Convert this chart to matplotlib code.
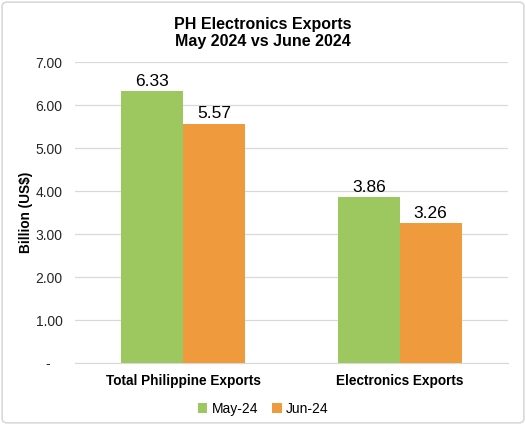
import matplotlib.pyplot as plt
import numpy as np
from matplotlib.patches import FancyBboxPatch

# data
categories = ["Total Philippine Exports", "Electronics Exports"]
may_24 = [6.33, 3.86]
jun_24 = [5.57, 3.26]
series_names = ["May-24", "Jun-24"]
yticks = [0, 1, 2, 3, 4, 5, 6, 7]
ytick_labels = ["-\u00a0\u00a0\u00a0", "1.00", "2.00", "3.00", "4.00", "5.00", "6.00", "7.00"]

plt.rcParams["font.family"] = ["Liberation Sans", "DejaVu Sans"]

green = "#9DC75F"
orange = "#EF9B3D"

fig = plt.figure(figsize=(5.26, 4.25), dpi=100)
ax = fig.add_axes([0.1426, 0.1459, 0.8232, 0.7081])

x = np.arange(len(categories))
w = 0.286
b1 = ax.bar(x - w / 2, may_24, w, color=green, label=series_names[0], zorder=3)
b2 = ax.bar(x + w / 2, jun_24, w, color=orange, label=series_names[1], zorder=3)

for bars in (b1, b2):
    for rect in bars:
        h = rect.get_height()
        ax.text(rect.get_x() + rect.get_width() / 2, h + 0.05, f"{h:.2f}",
                ha="center", va="bottom", fontsize=12.5, color="#000000")

ax.set_xlim(-0.5, 1.5)
ax.set_ylim(0, 7)
ax.set_yticks(yticks)
ax.set_yticklabels(ytick_labels, fontsize=10, color="#262626")
ax.set_xticks(x)
ax.set_xticklabels(categories, fontsize=9.8, fontweight="bold")
ax.tick_params(axis="both", length=0)
ax.tick_params(axis="y", pad=9)
ax.tick_params(axis="x", pad=8)
ax.grid(axis="y", color="#D9D9D9", linewidth=0.9, zorder=0)
for s in ["top", "right", "left"]:
    ax.spines[s].set_visible(False)
ax.spines["bottom"].set_color("#D9D9D9")

ax.set_ylabel("Billion (US$)", fontsize=9.8, fontweight="bold", labelpad=2)

fig.text(0.5, 0.96, "PH Electronics Exports\nMay 2024 vs June 2024",
         ha="center", va="top", fontsize=11.5, fontweight="bold", linespacing=1.15)

fig.legend(loc="center", bbox_to_anchor=(0.5, 0.038), ncol=2, frameon=False,
           fontsize=10, handlelength=0.7, handleheight=0.7, handletextpad=0.3,
           columnspacing=1.0)

border = FancyBboxPatch((0.004, 0.005), 0.992, 0.99, boxstyle="round,pad=0,rounding_size=0.01",
                        transform=fig.transFigure, fill=False, edgecolor="#D9D9D9", linewidth=1.2)
fig.patches.append(border)

fig.savefig("out.png", dpi=100)
